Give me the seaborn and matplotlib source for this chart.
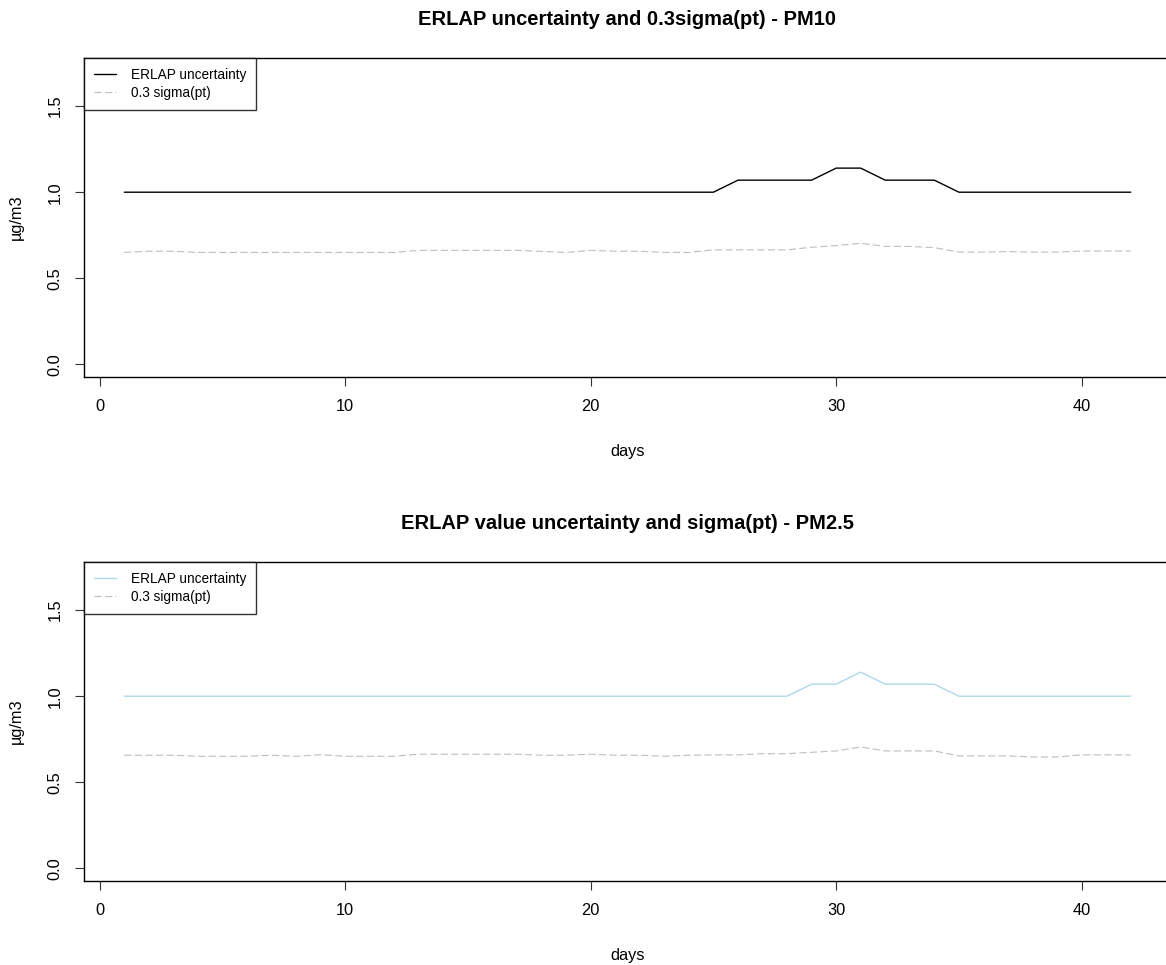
import matplotlib
matplotlib.use("Agg")
import matplotlib.pyplot as plt
import pandas as pd
import seaborn as sns

# Daily values (42 days) for the two particulate fractions
days = list(range(1, 43))

pm10_erlap = [1.00, 1.00, 1.00, 1.00, 1.00, 1.00, 1.00, 1.00, 1.00, 1.00,
              1.00, 1.00, 1.00, 1.00, 1.00, 1.00, 1.00, 1.00, 1.00, 1.00,
              1.00, 1.00, 1.00, 1.00, 1.00, 1.07, 1.07, 1.07, 1.07, 1.14,
              1.14, 1.07, 1.07, 1.07, 1.00, 1.00, 1.00, 1.00, 1.00, 1.00,
              1.00, 1.00]
pm10_sigma = [0.650, 0.657, 0.657, 0.650, 0.650, 0.650, 0.650, 0.650, 0.650, 0.650,
              0.650, 0.650, 0.662, 0.662, 0.662, 0.662, 0.662, 0.656, 0.650, 0.662,
              0.657, 0.657, 0.650, 0.650, 0.665, 0.665, 0.665, 0.665, 0.680, 0.690,
              0.703, 0.685, 0.685, 0.678, 0.652, 0.652, 0.655, 0.652, 0.652, 0.658,
              0.658, 0.658]

pm25_erlap = [1.00, 1.00, 1.00, 1.00, 1.00, 1.00, 1.00, 1.00, 1.00, 1.00,
              1.00, 1.00, 1.00, 1.00, 1.00, 1.00, 1.00, 1.00, 1.00, 1.00,
              1.00, 1.00, 1.00, 1.00, 1.00, 1.00, 1.00, 1.00, 1.07, 1.07,
              1.14, 1.07, 1.07, 1.07, 1.00, 1.00, 1.00, 1.00, 1.00, 1.00,
              1.00, 1.00]
pm25_sigma = [0.657, 0.657, 0.657, 0.651, 0.651, 0.651, 0.657, 0.651, 0.660, 0.651,
              0.651, 0.651, 0.663, 0.663, 0.663, 0.663, 0.663, 0.657, 0.657, 0.663,
              0.657, 0.657, 0.651, 0.657, 0.659, 0.659, 0.666, 0.666, 0.674, 0.682,
              0.705, 0.682, 0.682, 0.682, 0.653, 0.653, 0.653, 0.647, 0.647, 0.659,
              0.659, 0.659]

titles = ["ERLAP uncertainty and 0.3sigma(pt) - PM10",
          "ERLAP value uncertainty and sigma(pt) - PM2.5"]
erlap_colors = ["black", "#ADD8E6"]
sigma_color = "#BEBEBE"
legend_labels = ["ERLAP uncertainty", "0.3 sigma(pt)"]
x_ticks = [0, 10, 20, 30, 40]
y_ticks = [0.0, 0.5, 1.0, 1.5]
y_tick_labels = ["0.0", "0.5", "1.0", "1.5"]

sns.set_style("white")
plt.rcParams["font.family"] = ["Liberation Sans", "DejaVu Sans"]
plt.rcParams["text.color"] = "black"

W, H = 1166, 965
fig = plt.figure(figsize=(W / 100, H / 100), dpi=100)

left_px, right_px = 84, 1171
panels_px = [(58, 377), (562, 881)]

frames = [
    pd.DataFrame({"day": days, "erlap": pm10_erlap, "sigma": pm10_sigma}),
    pd.DataFrame({"day": days, "erlap": pm25_erlap, "sigma": pm25_sigma}),
]

dash = (0, (6.5, 3.0))

for i, (df, (top_px, bot_px)) in enumerate(zip(frames, panels_px)):
    ax = fig.add_axes([left_px / W, 1 - bot_px / H,
                       (right_px - left_px) / W, (bot_px - top_px) / H])
    sns.lineplot(data=df, x="day", y="erlap", ax=ax, color=erlap_colors[i],
                 linewidth=1.0, label=legend_labels[0])
    sns.lineplot(data=df, x="day", y="sigma", ax=ax, color=sigma_color,
                 linewidth=0.8, linestyle=dash, label=legend_labels[1])

    ax.set_xlim(-0.64, 43.64)
    ax.set_ylim(-0.074, 1.78)
    ax.set_xticks(x_ticks)
    ax.set_yticks(y_ticks)
    ax.set_yticklabels(y_tick_labels, rotation=90, va="center")
    ax.tick_params(axis="both", which="major", direction="out", length=6.5,
                   width=0.8, color="#333333", labelsize=11.8, pad=9,
                   bottom=True, left=True, labelcolor="black")
    for s in ax.spines.values():
        s.set_color("black")
        s.set_linewidth(1.0)
        s.set_visible(True)

    ax.set_title(titles[i], fontsize=14.5, fontweight="bold", pad=24,
                 color="black")
    ax.set_xlabel("days", fontsize=11.8, labelpad=22, color="black")
    ax.set_ylabel("µg/m3", fontsize=11.8, labelpad=17, color="black")

    leg = ax.legend(loc="upper left", borderaxespad=0, fontsize=9.8,
                    frameon=True, fancybox=False, handlelength=1.6,
                    handletextpad=1.1, labelspacing=0.32, borderpad=0.72)
    leg.get_frame().set_edgecolor("black")
    leg.get_frame().set_linewidth(1.0)
    for t in leg.get_texts():
        t.set_color("black")

fig.savefig("out.png", dpi=100)
